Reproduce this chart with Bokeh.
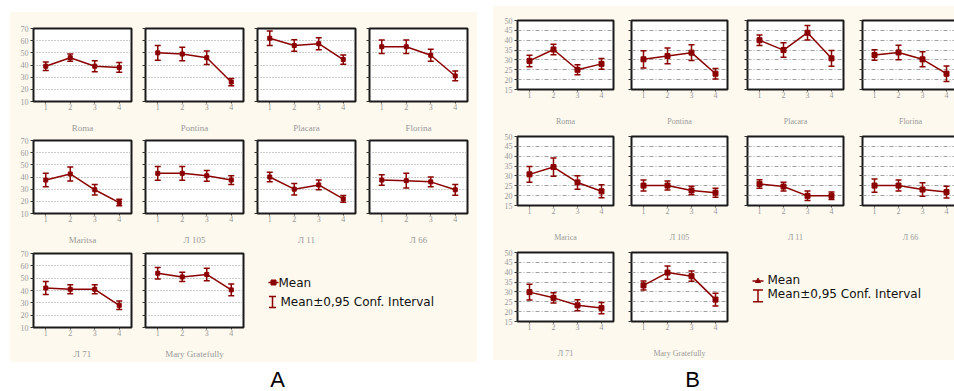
from bokeh.plotting import figure
from bokeh.models import (Range1d, FixedTicker, Whisker, TeeHead, ColumnDataSource,
                          Spacer)
from bokeh.layouts import row, column
from bokeh.core.properties import value
from bokeh.embed import file_html
from bokeh.resources import INLINE

# ---------------- data ----------------
groups = [1, 2, 3, 4]
names_a = ["Roma", "Pontina", "Placara", "Florina", "Maritsa",
           "Л 105", "Л 11", "Л 66", "Л 71", "Mary Gratefully"]
names_b = ["Roma", "Pontina", "Placara", "Florina", "Marica",
           "Л 105", "Л 11", "Л 66", "Л 71", "Mary Gratefully"]

mean_a = [
    [39, 46, 39, 38],
    [50, 49, 46, 26],
    [62, 56, 57.5, 44.5],
    [55, 55, 48, 31],
    [37.5, 42.5, 29.5, 19],
    [43, 43, 41, 37.5],
    [40, 30, 33.5, 22],
    [37.5, 37, 36, 29.5],
    [42, 41, 41, 28],
    [54, 51, 53, 40.5],
]
ci_a = [
    [3.5, 3, 4.5, 4],
    [6, 5.5, 5.5, 3],
    [6, 4.8, 5, 3.8],
    [5.5, 5.5, 5, 4],
    [5.5, 5.7, 4.3, 2.7],
    [5.6, 5.6, 4.4, 3.6],
    [4, 4.7, 4, 2.7],
    [4.3, 6, 4, 4.4],
    [5.2, 3.7, 3.7, 3.5],
    [4.7, 3.7, 5, 4.7],
]
mean_b = [
    [29.5, 35.3, 25, 28],
    [30.3, 32, 33.7, 23],
    [40, 35, 43.8, 30.8],
    [32.5, 33.8, 30.3, 23],
    [30.8, 34.5, 26.7, 22.2],
    [25.1, 25.1, 22.6, 21.5],
    [25.9, 24.6, 19.9, 19.9],
    [25.1, 25.1, 23.1, 21.8],
    [29.9, 27, 23.2, 21.8],
    [33.3, 39.8, 38, 26.1],
]
ci_b = [
    [2.9, 2.7, 2.5, 2.7],
    [4.4, 4, 4, 2.7],
    [2.7, 3.7, 3.7, 4],
    [2.6, 3.7, 3.8, 3.9],
    [4, 4.6, 3.4, 3.3],
    [2.8, 2.3, 2.2, 2.3],
    [2.2, 2.2, 2.4, 1.9],
    [3.4, 2.8, 3.4, 3],
    [4, 2.6, 2.8, 2.9],
    [2.3, 3.4, 2.6, 3.2],
]
yticks_a = [10, 20, 30, 40, 50, 60, 70]
yticks_b = [15, 20, 25, 30, 35, 40, 45, 50]
legend_labels = ["Mean", "Mean±0,95 Conf. Interval"]
panel_letters = ["A", "B"]

# ---------------- styling ----------------
RED = "#8B0000"
CREAM = "#FDF9EE"
GRAY_TXT = "#9a9a9a"

SPEC_A = dict(frame_w=98, frame_h=74, left=[23, 7, 7, 7], right=[7, 7, 7, 10],
              top=[16, 5, 6], bottom=[33, 33, 35], name_standoff=10,
              grid_dash="1 2", grid_color="#999999", marker=4, yr=(10, 70),
              yticks=yticks_a, names=names_a, means=mean_a, cis=ci_a,
              name_size="9px")
SPEC_B = dict(frame_w=96, frame_h=70, left=[24, 9, 10, 10], right=[9, 10, 9, 9],
              top=[14, 8, 8], bottom=[38, 38, 38], name_standoff=16,
              grid_dash="4 2 1 2", grid_color="#a0a0a0", marker=5, yr=(15, 50),
              yticks=yticks_b, names=names_b, means=mean_b, cis=ci_b,
              name_size="8px")


def small(spec, i, r, c):
    m = spec["means"][i]
    e = spec["cis"][i]
    src = ColumnDataSource(dict(x=groups, m=m,
                                lo=[a - b for a, b in zip(m, e)],
                                hi=[a + b for a, b in zip(m, e)]))
    w = spec["left"][c] + spec["frame_w"] + spec["right"][c]
    h = spec["top"][r] + spec["frame_h"] + spec["bottom"][r]
    p = figure(width=w, height=h, x_range=Range1d(0.5, 4.5),
               y_range=Range1d(spec["yr"][0], spec["yr"][1]),
               output_backend="svg", toolbar_location=None, tools="",
               title=None,
               min_border_left=spec["left"][c], min_border_right=spec["right"][c],
               min_border_top=spec["top"][r], min_border_bottom=spec["bottom"][r],
               background_fill_color="white", border_fill_color=CREAM,
               outline_line_color="#1a1a1a", outline_line_width=2)
    p.xaxis.ticker = FixedTicker(ticks=groups)
    p.yaxis.ticker = FixedTicker(ticks=spec["yticks"])
    p.ygrid.ticker = FixedTicker(ticks=spec["yticks"])
    p.xgrid.visible = False
    p.ygrid.grid_line_color = spec["grid_color"]
    p.ygrid.grid_line_dash = spec["grid_dash"]
    p.ygrid.grid_line_width = 1
    for ax in (p.xaxis[0], p.yaxis[0]):
        ax.axis_line_color = None
        ax.major_tick_line_color = "#333333"
        ax.major_tick_in = 0
        ax.major_tick_out = 3
        ax.minor_tick_line_color = None
        ax.major_label_text_font = "Liberation Serif"
        ax.major_label_text_font_size = "8px"
        ax.major_label_text_color = GRAY_TXT
        ax.major_label_standoff = 2
    p.xaxis.major_tick_out = 2
    p.xaxis.major_label_standoff = 0
    if c != 0:
        p.yaxis.major_label_overrides = {t: "" for t in spec["yticks"]}
    p.xaxis.axis_label = spec["names"][i]
    p.xaxis.axis_label_text_font = "Liberation Serif"
    p.xaxis.axis_label_text_font_size = spec["name_size"]
    p.xaxis.axis_label_text_font_style = "normal"
    p.xaxis.axis_label_text_color = GRAY_TXT
    p.xaxis.axis_label_standoff = spec["name_standoff"]

    p.add_layout(Whisker(source=src, base="x", upper="hi", lower="lo",
                         line_color=RED, line_width=1.5,
                         upper_head=TeeHead(size=6, line_color=RED, line_width=1.5),
                         lower_head=TeeHead(size=6, line_color=RED, line_width=1.5)))
    p.line("x", "m", source=src, line_color=RED, line_width=1.5)
    p.scatter("x", "m", source=src, marker="square", size=spec["marker"], color=RED)
    return p


def legend_fig(spec, w, sym, txt, mean_marker):
    T = spec["top"][2]
    F = spec["frame_h"]
    B = spec["bottom"][2]
    # y data values are pixel offsets from the figure's top edge
    p = figure(width=w, height=T + F + B, x_range=Range1d(0, w),
               y_range=Range1d(T + F, T),
               output_backend="svg", toolbar_location=None, tools="",
               title=None, x_axis_type=None, y_axis_type=None,
               min_border_left=0, min_border_right=0, min_border_top=T,
               min_border_bottom=B, background_fill_color=CREAM,
               border_fill_color=CREAM, outline_line_color=None)
    p.xgrid.visible = False
    p.ygrid.visible = False
    x0, x1, ym, xm = sym["mean"]
    p.segment(x0=[x0], y0=[ym], x1=[x1], y1=[ym], line_color=RED, line_width=1.5)
    p.scatter(x=[xm], y=[ym], marker=mean_marker, size=5, color=RED)
    xc, cw, yt, yb = sym["ci"]
    p.segment(x0=[xc, xc - cw / 2, xc - cw / 2], y0=[yt, yt, yb],
              x1=[xc, xc + cw / 2, xc + cw / 2], y1=[yb, yt, yb],
              line_color=RED, line_width=1.5)
    p.text(x=txt["x"], y=txt["y"], text=legend_labels,
           text_font=value("DejaVu Sans"), text_font_size="12px",
           text_baseline="middle", text_align="left", text_color="#111111")
    return p


def letter_fig(letter, w, h, yc):
    p = figure(width=w, height=h, x_range=Range1d(0, w), y_range=Range1d(h, 0),
               output_backend="svg", toolbar_location=None, tools="",
               title=None, x_axis_type=None, y_axis_type=None,
               min_border_left=0, min_border_right=0, min_border_top=0,
               min_border_bottom=0, background_fill_color=None,
               border_fill_color=None, outline_line_color=None)
    p.xgrid.visible = False
    p.ygrid.visible = False
    p.text(x=[w / 2], y=[yc], text=[letter],
           text_font=value("Liberation Sans"), text_font_size="22px",
           text_baseline="middle", text_align="center", text_color="#000000")
    return p


def panel(spec, width, height, leg_w, leg_sym, leg_txt, mean_marker):
    rows = []
    idx = 0
    for r in range(3):
        figs = []
        ncols = 4 if r < 2 else 2
        for c in range(ncols):
            figs.append(small(spec, idx, r, c))
            idx += 1
        if r == 2:
            figs.append(legend_fig(spec, leg_w, leg_sym, leg_txt, mean_marker))
        rows.append(row(figs, spacing=0))
    return column(rows, spacing=0, width=width, height=height,
                  styles={"background-color": CREAM, "overflow": "hidden"})


creamA = panel(SPEC_A, 467, 350, 227,
               dict(mean=(18, 28, 35, 23), ci=(22, 7, 49, 60)),
               dict(x=[28, 30], y=[35, 54]), "square")
creamB = panel(SPEC_B, 461, 354, 230,
               dict(mean=(15, 26, 37, 20.5), ci=(20.5, 10, 46, 58)),
               dict(x=[30, 30], y=[35.5, 50.5]), "triangle")

rowA = row([Spacer(width=252, height=29), letter_fig(panel_letters[0], 30, 29, 16.5)],
           spacing=0)
rowB = row([Spacer(width=184, height=31), letter_fig(panel_letters[1], 30, 31, 18.5)],
           spacing=0)

colA = column([Spacer(width=467, height=12), creamA, rowA], spacing=0)
colB = column([Spacer(width=461, height=6), creamB, rowB], spacing=0)
layout = row([Spacer(width=10, height=10), colA, Spacer(width=16, height=10), colB],
             spacing=0)

open("out.html", "w").write(file_html(layout, INLINE))
